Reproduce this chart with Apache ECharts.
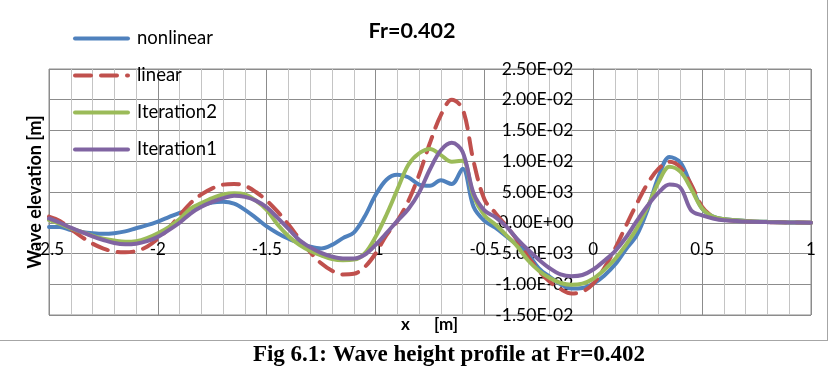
<!DOCTYPE html>
<html>
<head>
<meta charset="utf-8">
<script src="https://cdn.jsdelivr.net/npm/echarts@6/dist/echarts.min.js"></script>
<style>
html,body{margin:0;padding:0;background:#fff;}
#chart{width:830px;height:368px;}
</style>
</head>
<body>
<div id="chart"></div>
<script>
// x positions [m]
const xs = [-2.50,-2.45,-2.40,-2.35,-2.30,-2.25,-2.20,-2.15,-2.10,-2.05,
  -2.00,-1.95,-1.90,-1.85,-1.80,-1.75,-1.70,-1.65,-1.60,-1.55,
  -1.50,-1.45,-1.40,-1.35,-1.30,-1.25,-1.20,-1.15,-1.10,-1.05,
  -1.00,-0.95,-0.90,-0.85,-0.80,-0.75,-0.70,-0.65,-0.60,-0.55,
  -0.50,-0.45,-0.40,-0.35,-0.30,-0.25,-0.20,-0.15,-0.10,-0.05,
  0.00,0.05,0.10,0.15,0.20,0.25,0.30,0.35,0.40,0.45,
  0.50,0.55,0.60,0.70,0.80,0.90,1.00];

// wave elevation [m]
const nonlinear = [-0.0007,-0.0007,-0.0012,-0.0015,-0.0017,-0.0018,-0.0017,-0.0014,-0.0009,-0.0004,
  0.0002,0.0009,0.0016,0.0022,0.0028,0.0033,0.0034,0.0031,0.0021,0.0008,
  -0.0006,-0.0017,-0.0026,-0.0033,-0.0039,-0.0042,-0.0036,-0.0025,-0.0016,0.0010,
  0.0045,0.0070,0.0078,0.0074,0.0062,0.0060,0.0069,0.0063,0.0088,0.0026,
  0.0003,-0.0008,-0.0022,-0.0036,-0.0051,-0.0074,-0.0088,-0.0100,-0.0107,-0.0106,
  -0.0099,-0.0086,-0.0068,-0.0043,-0.0020,0.0022,0.0075,0.0107,0.0098,0.0060,
  0.0023,0.0010,0.0006,0.0003,0.00015,0.00005,0.0];

const linear = [0.0010,0.0003,-0.0010,-0.0023,-0.0034,-0.0042,-0.0047,-0.0048,-0.0046,-0.0039,
  -0.0026,-0.0009,0.0012,0.0032,0.0046,0.0056,0.0062,0.0063,0.0060,0.0050,
  0.0036,0.0018,-0.0003,-0.0026,-0.0048,-0.0066,-0.0078,-0.0084,-0.0083,-0.0072,
  -0.0050,-0.0020,0.0003,0.0035,0.0078,0.0130,0.0175,0.0200,0.0185,0.0100,
  0.0038,0.0016,-0.0005,-0.0028,-0.0055,-0.0078,-0.0096,-0.0108,-0.0115,-0.0112,
  -0.0099,-0.0074,-0.0042,-0.0005,0.0031,0.0064,0.0088,0.0099,0.0090,0.0062,
  0.0026,0.0010,0.0005,0.00025,0.0001,0.00005,0.0];

const iteration2 = [0.00045,-0.0002,-0.0009,-0.0015,-0.0021,-0.0026,-0.0029,-0.0031,-0.0030,-0.0025,
  -0.0017,-0.0007,0.0006,0.0023,0.0032,0.0040,0.0046,0.0048,0.0046,0.0036,
  0.0021,-0.0003,-0.0022,-0.0036,-0.0046,-0.0053,-0.0059,-0.0061,-0.0060,-0.0050,
  -0.0023,0.0013,0.0054,0.0094,0.0113,0.0120,0.0110,0.0099,0.0101,0.0043,
  0.0012,-0.0003,-0.0020,-0.0038,-0.0061,-0.0078,-0.0090,-0.0098,-0.0101,-0.0099,
  -0.0091,-0.0077,-0.0059,-0.0036,-0.0009,0.0026,0.0066,0.0091,0.0083,0.0055,
  0.0023,0.0010,0.0006,0.0003,0.00015,0.00005,0.0];

const iteration1 = [0.0007,0.0000,-0.0008,-0.0015,-0.0022,-0.0028,-0.0033,-0.0035,-0.0034,-0.0030,
  -0.0023,-0.0012,0.0000,0.0015,0.0026,0.0034,0.0040,0.0044,0.0042,0.0036,
  0.0025,0.0008,-0.0010,-0.0028,-0.0040,-0.0049,-0.0055,-0.0058,-0.0058,-0.0052,
  -0.0036,-0.0017,0.0003,0.0022,0.0049,0.0087,0.0118,0.0130,0.0115,0.0048,
  0.0020,0.0009,-0.0006,-0.0026,-0.0044,-0.0060,-0.0074,-0.0084,-0.0087,-0.0085,
  -0.0076,-0.0062,-0.0046,-0.0024,0.0003,0.0028,0.0049,0.0062,0.0057,0.0020,
  0.0012,0.0007,0.0004,0.0002,0.0001,0.00005,0.0];

const seriesNames = ['nonlinear','linear','Iteration2','Iteration1'];
const xTickLabels = ['-2.5','-2','-1.5','-1','-0.5','0','0.5','1'];
const yTickLabels = ['-1.50E-02','-1.00E-02','-5.00E-03','0.00E+00','5.00E-03','1.00E-02','1.50E-02','2.00E-02','2.50E-02'];

const X_MIN = -2.5, X_MAX = 1, X_INT = 0.5;
const Y_MIN = -0.015, Y_MAX = 0.025, Y_INT = 0.005;

// plot-area layout (px)
const W = 830, H = 368;
const G = {left: 49, right: 19, top: 69, bottom: 53};
const gw = W - G.left - G.right, gh = H - G.top - G.bottom;
// shift axes so they cross at zero (Excel style)
const xAxisOffset = -gh * (0 - Y_MIN) / (Y_MAX - Y_MIN);
const yAxisOffset = -gw * (0 - X_MIN) / (X_MAX - X_MIN);

const chart = echarts.init(document.getElementById('chart'), null, {renderer:'canvas'});
const pairs = arr => xs.map((x,i)=>[x, arr[i]]);
const colors = ['#4F81BD','#C0504D','#9BBB59','#8064A2'];
const dataSets = [nonlinear, linear, iteration2, iteration1];
const FONT = 'Lato, "Open Sans", sans-serif';

const option = {
  animation: false,
  grid: {left: G.left, right: G.right, top: G.top, bottom: G.bottom, show: true, borderColor: '#8c8c8c', borderWidth: 1},
  legend: {
    orient: 'vertical', left: 73, top: 29, padding: 0,
    itemWidth: 53, itemHeight: 14, itemGap: 18,
    data: seriesNames,
    itemStyle: {opacity: 0, borderWidth: 0},
    lineStyle: {width: 4},
    textStyle: {fontFamily: FONT, fontSize: 18.5, color: '#000', padding: [0, 0, 0, 4]}
  },
  xAxis: {
    type: 'value', min: X_MIN, max: X_MAX, interval: X_INT,
    position: 'bottom', offset: xAxisOffset,
    axisLine: {show: true, onZero: false, lineStyle: {color: '#8c8c8c', width: 1}},
    axisTick: {show: false},
    axisLabel: {
      margin: 18, color: '#000', fontFamily: FONT, fontSize: 17,
      formatter: v => xTickLabels[Math.round((v - X_MIN) / X_INT)]
    },
    splitLine: {show: true, lineStyle: {color: '#8c8c8c', width: 1}},
    minorTick: {show: false, splitNumber: 5},
    minorSplitLine: {show: true, lineStyle: {color: '#c4c4c4', width: 1}}
  },
  yAxis: {
    type: 'value', min: Y_MIN, max: Y_MAX, interval: Y_INT,
    position: 'left', offset: yAxisOffset,
    axisLine: {show: true, onZero: false, lineStyle: {color: '#8c8c8c', width: 1}},
    axisTick: {show: false},
    axisLabel: {
      margin: 20, color: '#000', fontFamily: FONT, fontSize: 17.5,
      formatter: v => yTickLabels[Math.round((v - Y_MIN) / Y_INT)]
    },
    splitLine: {show: true, lineStyle: {color: '#8c8c8c', width: 1}}
  },
  series: seriesNames.map((name, k) => ({
    name: name,
    type: 'line',
    data: pairs(dataSets[k]),
    smooth: 0.35,
    symbol: 'none',
    showSymbol: false,
    color: colors[k],
    lineStyle: {color: colors[k], width: 4, type: k === 1 ? [16, 10] : 'solid', cap: 'round'},
    z: 2 + k
  })),
  graphic: [
    {type: 'text', x: 412, y: 31, style: {text: 'Fr=0.402', font: 'bold 21.5px ' + FONT, fill: '#000', align: 'center', verticalAlign: 'middle'}},
    {type: 'text', x: 35, y: 192, rotation: Math.PI / 2, style: {text: 'Wave elevation [m]', font: 'bold 18px ' + FONT, fill: '#000', align: 'center', verticalAlign: 'middle'}},
    {type: 'text', x: 401, y: 325, style: {text: 'x', font: 'bold 17px ' + FONT, fill: '#000', align: 'left', verticalAlign: 'middle'}},
    {type: 'text', x: 458, y: 325, style: {text: '[m]', font: 'bold 17px ' + FONT, fill: '#000', align: 'right', verticalAlign: 'middle'}},
    {type: 'line', shape: {x1: 0, y1: 340.5, x2: 828, y2: 340.5}, style: {stroke: '#a6a6a6', lineWidth: 1}},
    {type: 'line', shape: {x1: 827.5, y1: 0, x2: 827.5, y2: 341}, style: {stroke: '#a6a6a6', lineWidth: 1}},
    {type: 'text', x: 449, y: 355, style: {text: 'Fig 6.1: Wave height profile at Fr=0.402', font: 'bold 23px "Liberation Serif", "Times New Roman", serif', fill: '#000', align: 'center', verticalAlign: 'middle'}}
  ]
};
chart.setOption(option);
</script>
</body>
</html>
